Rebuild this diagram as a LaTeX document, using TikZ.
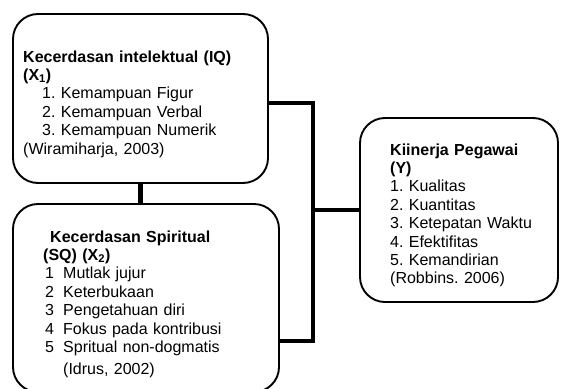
\documentclass[tikz,border=0pt]{standalone}
\usepackage{fontspec}
\setmainfont{Liberation Sans}
\frenchspacing
\begin{document}
\begin{tikzpicture}[x=1pt,y=-1pt,
  box/.style={draw, line width=1.9pt, rounded corners=25pt, inner sep=0pt},
  conn/.style={line width=4.6pt},
  txt/.style={anchor=base west, inner sep=0pt, align=left, font=\fontsize{16}{18.4}\selectfont\frenchspacing}]
\useasboundingbox (0,0) rectangle (561,388);
\clip (0,0) rectangle (561,388);
% boxes
\node[box, minimum width=255pt, minimum height=169pt] (iq) at (140.5,98.5) {};
\node[box, minimum width=266pt, minimum height=188pt] (sq) at (146,298) {};
\node[box, minimum width=198pt, minimum height=184pt] (y) at (459,210) {};
% texts
\node[txt, text width=240pt] (iqt) at (23,62) {\textbf{Kecerdasan intelektual (IQ)}\\
\textbf{(X\textsubscript{1})}\\
\hspace*{19pt}1. Kemampuan Figur\\
\hspace*{19pt}2. Kemampuan Verbal\\
\hspace*{19pt}3. Kemampuan Numerik\\
(Wiramiharja, 2003)};
\node[txt, text width=230pt] (sqt) at (43,242) {\hspace*{7pt}\textbf{Kecerdasan Spiritual}\\
\textbf{(SQ) (X\textsubscript{2})}\\
\hspace*{2pt}\makebox[18pt][l]{1}Mutlak jujur\\
\hspace*{2pt}\makebox[18pt][l]{2}Keterbukaan\\
\hspace*{2pt}\makebox[18pt][l]{3}Pengetahuan diri\\
\hspace*{2pt}\makebox[18pt][l]{4}Fokus pada kontribusi\\
\hspace*{2pt}\makebox[18pt][l]{5}Spritual non-dogmatis\\[3.6pt]
\hspace*{20pt}(Idrus, 2002)};
\node[txt, text width=165pt] (yt) at (390,155) {\textbf{Kiinerja Pegawai}\\
\textbf{(Y)}\\
1. Kualitas\\
2. Kuantitas\\
3. Ketepatan Waktu\\
4. Efektifitas\\
5. Kemandirian\\
(Robbins. 2006)};
% connectors
\coordinate (bustop) at (313,103);
\coordinate (busbot) at (313,341);
\draw[conn] (iq.east |- bustop) -- (bustop) -- (busbot) -- (sq.east |- busbot);
\draw[conn] (bustop |- y.west) -- (y.west);
\draw[conn] (iq.south) -- (iq.south |- sq.north);
\end{tikzpicture}
\end{document}
